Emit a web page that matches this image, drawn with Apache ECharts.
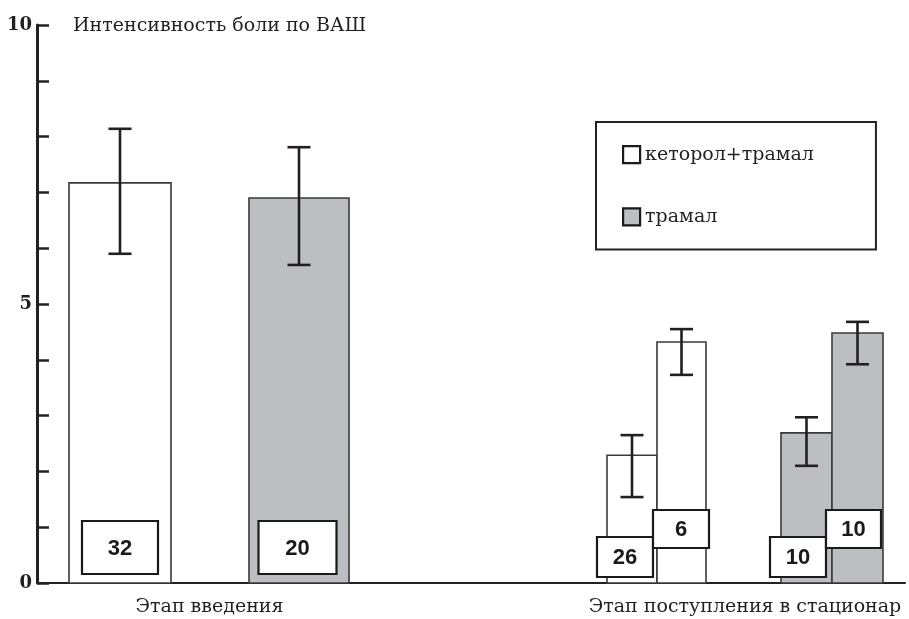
<!DOCTYPE html>
<html>
<head>
<meta charset="utf-8">
<script src="https://cdn.jsdelivr.net/npm/echarts@6/dist/echarts.min.js"></script>
<style>
  html, body { margin: 0; padding: 0; background: #fff; }
  #chart { width: 909px; height: 619px; }
</style>
</head>
<body>
<div id="chart"></div>
<script>
// Стадии и группы лечения
const stages = ['Этап введения', 'Этап поступления в стационар'];
const groupNames = ['кеторол+трамал', 'трамал'];
const yLabelValues = [0, 5, 10];

// Этап введения: среднее, нижняя и верхняя граница, число больных
const introMean = [7.17, 6.90];
const introLow  = [5.90, 5.70];
const introHigh = [8.14, 7.81];
const introN    = [32, 20];

// Этап поступления в стационар: по два столбца на группу
const admMean  = [2.29, 4.32, 2.69, 4.48];
const admLow   = [1.54, 3.73, 2.10, 3.92];
const admHigh  = [2.65, 4.55, 2.97, 4.68];
const admN     = [26, 6, 10, 10];
const admGroup = [0, 0, 1, 1];

// Геометрия столбцов и рамок с числом больных (пиксели от центра категории / от оси)
const barLayout = [
  [ // кеторол+трамал
    { dx: -134, w: 102, boxDx: 0,    boxW: 76, boxH: 53, lift: 9 },
    { dx: -56,  w: 50,  boxDx: -7,   boxW: 56, boxH: 40, lift: 6 },
    { dx: -6.5, w: 49,  boxDx: -0.5, boxW: 56, boxH: 38, lift: 35 }
  ],
  [ // трамал
    { dx: 45,    w: 100, boxDx: -1.5, boxW: 78, boxH: 53, lift: 9 },
    { dx: 118.5, w: 51,  boxDx: -8.5, boxW: 56, boxH: 40, lift: 6 },
    { dx: 169.5, w: 51,  boxDx: -4,   boxW: 55, boxH: 38, lift: 35 }
  ]
];
const fills = ['#ffffff', '#bdbec1'];
const ink = '#231f20';
const serif = '"DejaVu Serif", "Liberation Serif", serif';

function seriesData(g) {
  const rows = [[0, introMean[g], introLow[g], introHigh[g], introN[g]]];
  admGroup.forEach((grp, i) => {
    if (grp === g) rows.push([1, admMean[i], admLow[i], admHigh[i], admN[i]]);
  });
  return rows;
}

function makeRender(g) {
  return function (params, api) {
    const L = barLayout[g][params.dataIndex];
    const stage = api.value(0);
    const top = api.coord([stage, api.value(1)]);
    const lo = api.coord([stage, api.value(2)]);
    const hi = api.coord([stage, api.value(3)]);
    const base = api.coord([stage, 0]);
    const cx = base[0] + L.dx;
    const cap = 23;
    const bx = cx + L.boxDx;
    const by = base[1] - L.lift - L.boxH;
    return {
      type: 'group',
      children: [
        {
          type: 'rect',
          shape: { x: cx - L.w / 2, y: top[1], width: L.w, height: base[1] - top[1] },
          style: { fill: fills[g], stroke: '#3a3a3a', lineWidth: 1.6 }
        },
        {
          type: 'line',
          shape: { x1: cx, y1: hi[1], x2: cx, y2: lo[1] },
          style: { stroke: ink, lineWidth: 2.6 }
        },
        {
          type: 'line',
          shape: { x1: cx - cap / 2, y1: hi[1], x2: cx + cap / 2, y2: hi[1] },
          style: { stroke: ink, lineWidth: 2.6 }
        },
        {
          type: 'line',
          shape: { x1: cx - cap / 2, y1: lo[1], x2: cx + cap / 2, y2: lo[1] },
          style: { stroke: ink, lineWidth: 2.6 }
        },
        {
          type: 'rect',
          shape: { x: bx - L.boxW / 2, y: by, width: L.boxW, height: L.boxH },
          style: { fill: '#ffffff', stroke: '#1a1a1a', lineWidth: 2.2 }
        },
        {
          type: 'text',
          style: {
            x: bx, y: by + L.boxH / 2 + 1,
            text: String(api.value(4)),
            align: 'center', verticalAlign: 'middle',
            font: 'bold 22px "Liberation Sans", Arial, sans-serif',
            fill: '#1a1a1a'
          }
        }
      ]
    };
  };
}

const chart = echarts.init(document.getElementById('chart'), null, { renderer: 'canvas' });
chart.setOption({
  animation: false,
  backgroundColor: '#ffffff',
  title: {
    text: 'Интенсивность боли по ВАШ',
    left: 68, top: 12,
    textStyle: { fontFamily: serif, fontSize: 19, fontWeight: 'normal', color: ink }
  },
  legend: {
    orient: 'vertical',
    left: 596, top: 122,
    padding: [23, 62, 23, 26],
    itemWidth: 17, itemHeight: 17, itemGap: 43,
    borderColor: '#222', borderWidth: 2,
    selectedMode: false,
    textStyle: { fontFamily: serif, fontSize: 19, color: ink },
    data: groupNames.map((name, g) => ({
      name,
      icon: 'rect',
      itemStyle: { color: fills[g], borderColor: '#1a1a1a', borderWidth: 2.2 }
    }))
  },
  grid: { left: 37, right: 4, top: 25, bottom: 36 },
  xAxis: {
    type: 'category',
    data: stages,
    axisLine: { lineStyle: { color: '#222', width: 2 } },
    axisTick: { show: false },
    axisLabel: {
      interval: 0,
      hideOverlap: false,
      margin: 15,
      fontFamily: serif, fontSize: 19, color: ink,
      formatter: (v, i) => (i === 0 ? '{a|' + v + '}' : '{b|' + v + '}'),
      rich: {
        a: { fontFamily: serif, fontSize: 19, color: ink, padding: [0, 89, 0, 0] },
        b: { fontFamily: serif, fontSize: 19, color: ink, padding: [0, 0, 0, 114] }
      }
    }
  },
  yAxis: {
    type: 'value',
    min: 0, max: 10, interval: 1,
    axisLine: { show: true, lineStyle: { color: '#222', width: 3 } },
    axisTick: { show: true, inside: true, length: 12, lineStyle: { color: '#222', width: 2.5 } },
    splitLine: { show: false },
    axisLabel: {
      margin: 5,
      fontFamily: serif, fontSize: 18, fontWeight: 'bold', color: ink,
      formatter: v => (yLabelValues.indexOf(v) >= 0 ? String(v) : '')
    }
  },
  series: groupNames.map((name, g) => ({
    name,
    type: 'custom',
    itemStyle: { color: fills[g], borderColor: '#1a1a1a' },
    silent: true,
    renderItem: makeRender(g),
    encode: { x: 0, y: 1 },
    data: seriesData(g)
  }))
});
</script>
</body>
</html>
